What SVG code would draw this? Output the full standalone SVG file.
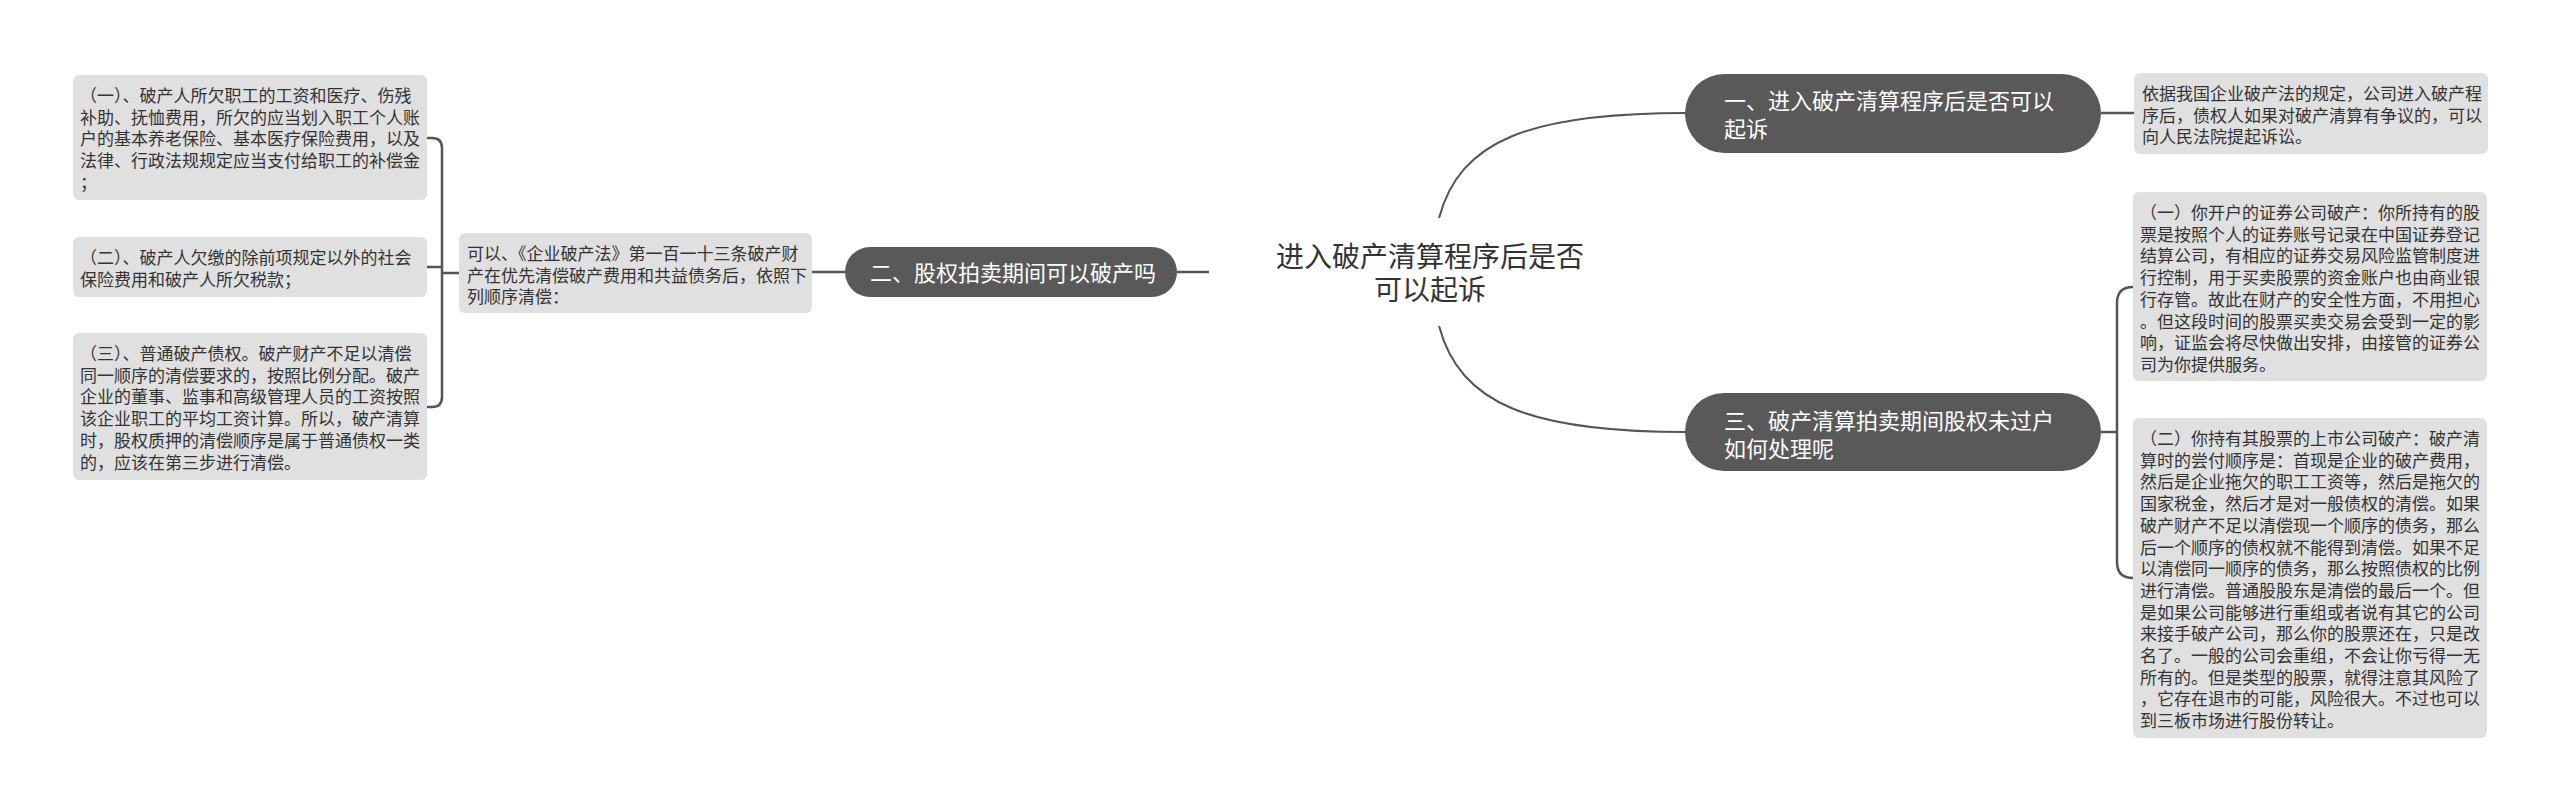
<svg xmlns="http://www.w3.org/2000/svg" width="2560" height="811" viewBox="0 0 2560 811">
<style>
.box{fill:#e0e0e0;}
.pill{fill:#595959;}
.bt{font-family:"Noto Sans CJK SC","Noto Sans",sans-serif;font-size:17px;fill:#333333;}
.pt{font-family:"Noto Sans CJK SC","Noto Sans",sans-serif;font-size:22px;fill:#ffffff;}
.ct{font-family:"Noto Sans CJK SC","Noto Sans",sans-serif;font-size:28px;fill:#333333;text-anchor:middle;}
.ln{fill:none;stroke:#555555;stroke-width:2.5;}
.cv{fill:none;stroke:#555555;stroke-width:2;}
</style>
<rect width="2560" height="811" fill="#ffffff"/>
<g id="connectors">
<path class="cv" d="M1439,218 C1460,140 1530,113 1686,113"/>
<path class="cv" d="M1439,326 C1460,404 1530,432 1686,432"/>
<path class="ln" d="M1209,272 H1177"/>
<path class="ln" d="M845,272 H812"/>
<path class="ln" d="M459,273 H442"/>
<path class="ln" d="M427,138 H432 Q442,138 442,148 V397 Q442,407 432,407 H427"/>
<path class="ln" d="M427,267 H442"/>
<path class="ln" d="M2101,113 H2134"/>
<path class="ln" d="M2101,432 H2117"/>
<path class="ln" d="M2133,287 Q2117,287 2117,303 V562 Q2117,578 2133,578"/>
</g>
<g id="center">
<text class="ct" x="1430" y="267">进入破产清算程序后是否<tspan x="1430" dy="33">可以起诉</tspan></text>
</g>
<g id="n2">
<rect class="pill" x="845" y="247" width="332" height="50" rx="25"/>
<text class="pt" x="870" y="281">二、股权拍卖期间可以破产吗</text>
</g>
<g id="n2a">
<rect class="box" x="459" y="233" width="353" height="80" rx="6"/>
<text class="bt" x="467" y="260">可以、《企业破产法》第一百一十三条破产财<tspan x="467" dy="21.7">产在优先清偿破产费用和共益债务后，依照下</tspan><tspan x="467" dy="21.7">列顺序清偿：</tspan></text>
</g>
<g id="n2a1">
<rect class="box" x="73" y="75" width="354" height="125" rx="6"/>
<text class="bt" x="80" y="102">（一）、破产人所欠职工的工资和医疗、伤残<tspan x="80" dy="21.7">补助、抚恤费用，所欠的应当划入职工个人账</tspan><tspan x="80" dy="21.7">户的基本养老保险、基本医疗保险费用，以及</tspan><tspan x="80" dy="21.7">法律、行政法规规定应当支付给职工的补偿金</tspan><tspan x="80" dy="21.7">；</tspan></text>
</g>
<g id="n2a2">
<rect class="box" x="73" y="237" width="354" height="60" rx="6"/>
<text class="bt" x="80" y="264">（二）、破产人欠缴的除前项规定以外的社会<tspan x="80" dy="21.7">保险费用和破产人所欠税款；</tspan></text>
</g>
<g id="n2a3">
<rect class="box" x="73" y="333" width="354" height="147" rx="6"/>
<text class="bt" x="80" y="360">（三）、普通破产债权。破产财产不足以清偿<tspan x="80" dy="21.7">同一顺序的清偿要求的，按照比例分配。破产</tspan><tspan x="80" dy="21.7">企业的董事、监事和高级管理人员的工资按照</tspan><tspan x="80" dy="21.7">该企业职工的平均工资计算。所以，破产清算</tspan><tspan x="80" dy="21.7">时，股权质押的清偿顺序是属于普通债权一类</tspan><tspan x="80" dy="21.7">的，应该在第三步进行清偿。</tspan></text>
</g>
<g id="n1">
<rect class="pill" x="1685" y="74" width="416" height="79" rx="39.5"/>
<text class="pt" x="1724" y="108.5">一、进入破产清算程序后是否可以<tspan x="1724" dy="28">起诉</tspan></text>
</g>
<g id="n1a">
<rect class="box" x="2134" y="73" width="354" height="81" rx="6"/>
<text class="bt" x="2142" y="100">依据我国企业破产法的规定，公司进入破产程<tspan x="2142" dy="21.7">序后，债权人如果对破产清算有争议的，可以</tspan><tspan x="2142" dy="21.7">向人民法院提起诉讼。</tspan></text>
</g>
<g id="n3">
<rect class="pill" x="1685" y="393" width="416" height="78" rx="39"/>
<text class="pt" x="1724" y="428.5">三、破产清算拍卖期间股权未过户<tspan x="1724" dy="28">如何处理呢</tspan></text>
</g>
<g id="n3a">
<rect class="box" x="2133" y="192" width="354" height="189" rx="6"/>
<text class="bt" x="2140" y="219">（一）你开户的证券公司破产：你所持有的股<tspan x="2140" dy="21.7">票是按照个人的证券账号记录在中国证券登记</tspan><tspan x="2140" dy="21.7">结算公司，有相应的证券交易风险监管制度进</tspan><tspan x="2140" dy="21.7">行控制，用于买卖股票的资金账户也由商业银</tspan><tspan x="2140" dy="21.7">行存管。故此在财产的安全性方面，不用担心</tspan><tspan x="2140" dy="21.7">。但这段时间的股票买卖交易会受到一定的影</tspan><tspan x="2140" dy="21.7">响，证监会将尽快做出安排，由接管的证券公</tspan><tspan x="2140" dy="21.7">司为你提供服务。</tspan></text>
</g>
<g id="n3b">
<rect class="box" x="2133" y="418" width="354" height="320" rx="6"/>
<text class="bt" x="2140" y="445">（二）你持有其股票的上市公司破产：破产清<tspan x="2140" dy="21.7">算时的尝付顺序是：首现是企业的破产费用，</tspan><tspan x="2140" dy="21.7">然后是企业拖欠的职工工资等，然后是拖欠的</tspan><tspan x="2140" dy="21.7">国家税金，然后才是对一般债权的清偿。如果</tspan><tspan x="2140" dy="21.7">破产财产不足以清偿现一个顺序的债务，那么</tspan><tspan x="2140" dy="21.7">后一个顺序的债权就不能得到清偿。如果不足</tspan><tspan x="2140" dy="21.7">以清偿同一顺序的债务，那么按照债权的比例</tspan><tspan x="2140" dy="21.7">进行清偿。普通股股东是清偿的最后一个。但</tspan><tspan x="2140" dy="21.7">是如果公司能够进行重组或者说有其它的公司</tspan><tspan x="2140" dy="21.7">来接手破产公司，那么你的股票还在，只是改</tspan><tspan x="2140" dy="21.7">名了。一般的公司会重组，不会让你亏得一无</tspan><tspan x="2140" dy="21.7">所有的。但是类型的股票，就得注意其风险了</tspan><tspan x="2140" dy="21.7">，它存在退市的可能，风险很大。不过也可以</tspan><tspan x="2140" dy="21.7">到三板市场进行股份转让。</tspan></text>
</g>
</svg>
